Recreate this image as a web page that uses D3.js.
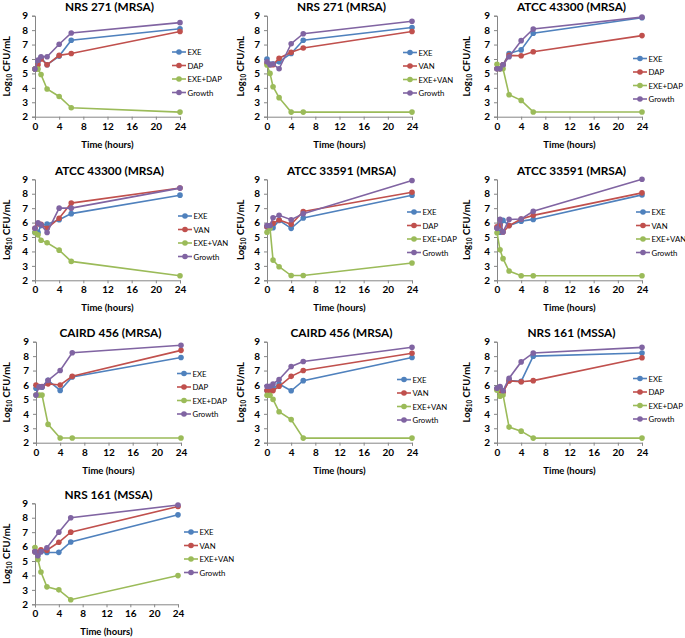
<!DOCTYPE html>
<html><head><meta charset="utf-8">
<script src="https://cdn.jsdelivr.net/npm/d3@7"></script>
<style>body{margin:0;background:#fff}svg{display:block}text{font-family:Lato,"Open Sans",sans-serif}</style>
</head><body>
<svg id="c" width="685" height="638"></svg>
<script>
const times = [0, 0.5, 1, 2, 4, 6, 24];
const xTicks = [0, 4, 8, 12, 16, 20, 24];
const yTicks = [2, 3, 4, 5, 6, 7, 8, 9];
const titles = ["NRS 271 (MRSA)", "NRS 271 (MRSA)", "ATCC 43300 (MRSA)", "ATCC 43300 (MRSA)", "ATCC 33591 (MRSA)", "ATCC 33591 (MRSA)", "CAIRD 456 (MRSA)", "CAIRD 456 (MRSA)", "NRS 161 (MSSA)", "NRS 161 (MSSA)"];
const namesDAP = ["EXE", "DAP", "EXE+DAP", "Growth"];
const namesVAN = ["EXE", "VAN", "EXE+VAN", "Growth"];
const colors = ["#4F81BD", "#C0504D", "#9BBB59", "#8064A2"];

// series order: EXE, antibiotic, combination, Growth
const nrs271Dap = [
  [5.3, 5.8, 6.1, 5.6, 6.2, 7.3, 8.1],
  [5.3, 5.6, 6.0, 5.6, 6.25, 6.38, 7.9],
  [5.3, 5.3, 4.92, 3.92, 3.4, 2.62, 2.32],
  [5.3, 5.92, 6.15, 6.15, 7.02, 7.8, 8.52]];
const nrs271Van = [
  [6.0, 5.65, 5.65, 5.8, 6.38, 7.3, 8.18],
  [5.7, 5.6, 5.6, 6.05, 6.46, 6.76, 7.9],
  [5.58, 5.0, 4.08, 3.32, 2.32, 2.32, 2.32],
  [5.8, 5.6, 5.65, 5.32, 7.06, 7.75, 8.62]];
const atcc43300Dap = [
  [5.32, 5.32, 5.6, 6.38, 6.63, 7.78, 8.86],
  [5.32, 5.32, 5.6, 6.25, 6.22, 6.5, 7.62],
  [5.64, 5.32, 5.32, 3.52, 3.13, 2.33, 2.33],
  [5.32, 5.32, 5.6, 6.15, 7.27, 8.08, 8.9]];
const atcc43300Van = [
  [5.32, 5.32, 5.8, 5.89, 6.2, 6.62, 7.9],
  [5.6, 5.92, 5.88, 5.6, 6.3, 7.35, 8.4],
  [5.31, 5.15, 4.78, 4.6, 4.09, 3.31, 2.32],
  [5.61, 5.98, 5.85, 5.31, 7.0, 7.0, 8.39]];
const atcc33591Dap = [
  [5.7, 5.72, 5.65, 6.15, 5.6, 6.32, 7.9],
  [5.72, 5.75, 5.95, 6.18, 5.88, 6.77, 8.1],
  [5.33, 5.6, 3.4, 2.94, 2.33, 2.33, 3.2],
  [5.79, 5.8, 6.33, 6.5, 6.2, 6.62, 8.92]];
const atcc33591Van = [
  [5.62, 5.33, 6.15, 5.8, 6.1, 6.22, 7.92],
  [5.7, 5.83, 5.35, 5.79, 6.25, 6.5, 8.06],
  [5.3, 4.11, 3.5, 2.64, 2.32, 2.32, 2.32],
  [5.6, 6.22, 5.35, 6.22, 6.25, 6.78, 9.0]];
const caird456Dap = [
  [5.77, 5.88, 5.85, 6.32, 5.62, 6.56, 7.9],
  [6.0, 5.9, 5.9, 6.08, 6.0, 6.6, 8.4],
  [5.3, 5.3, 5.3, 3.27, 2.33, 2.33, 2.33],
  [5.3, 5.88, 5.88, 6.32, 7.0, 8.23, 8.75]];
const caird456Van = [
  [5.62, 5.75, 5.75, 6.07, 5.6, 6.3, 7.9],
  [5.61, 5.61, 5.61, 5.91, 6.6, 7.0, 8.2],
  [5.29, 5.29, 5.0, 4.15, 3.6, 2.32, 2.32],
  [5.91, 5.91, 6.07, 6.38, 7.28, 7.63, 8.61]];
const nrs161Dap = [
  [5.75, 5.8, 5.55, 6.3, 6.25, 8.0, 8.22],
  [5.7, 5.6, 5.5, 6.28, 6.22, 6.3, 7.89],
  [5.64, 5.22, 5.31, 3.08, 2.8, 2.32, 2.32],
  [5.77, 5.89, 5.6, 6.47, 7.6, 8.22, 8.61]];
const nrs161Van = [
  [5.65, 5.5, 5.65, 5.59, 5.6, 6.32, 8.2],
  [5.65, 5.6, 5.78, 5.75, 6.3, 7.0, 8.78],
  [5.94, 5.1, 4.24, 3.21, 3.0, 2.32, 3.99],
  [5.65, 5.36, 5.65, 5.92, 7.0, 8.0, 8.88]];

const panelData = [nrs271Dap, nrs271Van, atcc43300Dap, atcc43300Van, atcc33591Dap, atcc33591Van, caird456Dap, caird456Van, nrs161Dap, nrs161Van];
const panelNames = [namesDAP, namesVAN, namesDAP, namesVAN, namesDAP, namesVAN, namesDAP, namesVAN, namesDAP, namesVAN];

// layout
const colX0 = [35, 267, 497];
const rowTop = [15.7, 179.3, 341.7, 503.3];
const plotH = 101;
const legendPos = [[179, 52], [410, 52.5], [640, 58.5], [185, 216], [414, 212], [643, 212], [184, 373.5], [404, 379.5], [640, 378.5], [191, 532]];
const yLabX = [6, 240, 466];

const svg = d3.select("#c");
const axisColor = "#868686";

panelData.forEach((series, i) => {
  const col = i % 3, row = Math.floor(i / 3);
  const x0 = colX0[col] + (row === 2 && col === 0 ? 1 : 0);
  const w = row === 3 ? 143 : 145;
  const top = rowTop[row];
  const x = d3.scaleLinear().domain([0, 24]).range([x0, x0 + w]);
  const y = d3.scaleLinear().domain([2, 9]).range([top + plotH, top]);
  const g = svg.append("g");

  // title
  g.append("text").attr("x", x0 + w / 2 + 2).attr("y", top - 4.5)
    .attr("text-anchor", "middle").attr("font-weight", "bold").attr("font-size", 11.8)
    .attr("fill", "#000").text(titles[i]);

  // axes
  const ya = g.append("g").attr("transform", `translate(${x0},0)`)
    .call(d3.axisLeft(y).tickValues(yTicks).tickFormat(d3.format("d")).tickSize(3).tickPadding(4));
  const xa = g.append("g").attr("transform", `translate(0,${top + plotH})`)
    .call(d3.axisBottom(x).tickValues(xTicks).tickFormat(d3.format("d")).tickSize(3).tickPadding(3));
  [ya, xa].forEach(a => {
    a.selectAll("path,line").attr("stroke", axisColor);
    a.selectAll("text").attr("font-size", 10).attr("font-weight", "bold")
      .attr("fill", "#000").attr("font-family", "Lato, sans-serif");
  });

  // axis titles
  g.append("text").attr("x", x0 + w / 2).attr("y", top + plotH + 31)
    .attr("text-anchor", "middle").attr("font-weight", "bold").attr("font-size", 9.5)
    .text("Time (hours)");
  const yl = g.append("text")
    .attr("transform", `translate(${yLabX[col] + 3.5},${top + plotH / 2}) rotate(-90)`)
    .attr("text-anchor", "middle").attr("font-weight", "bold").attr("font-size", 9.5);
  yl.append("tspan").text("Log");
  yl.append("tspan").attr("font-size", 6.5).attr("dy", 2.5).text("10");
  yl.append("tspan").attr("dy", -2.5).text(" CFU/mL");

  // series
  const line = d3.line().x((d, k) => x(times[k])).y(d => y(d));
  series.forEach((vals, s) => {
    g.append("path").datum(vals).attr("d", line)
      .attr("fill", "none").attr("stroke", colors[s]).attr("stroke-width", 1.6);
    g.selectAll(null).data(vals).enter().append("circle")
      .attr("cx", (d, k) => x(times[k])).attr("cy", d => y(d)).attr("r", 2.8)
      .attr("fill", colors[s]);
  });

  // legend
  const [lx, ly] = legendPos[i];
  panelNames[i].forEach((nm, s) => {
    const yy = ly + s * 13.5;
    g.append("line").attr("x1", lx - 7).attr("x2", lx + 7).attr("y1", yy).attr("y2", yy)
      .attr("stroke", colors[s]).attr("stroke-width", 1.6);
    g.append("circle").attr("cx", lx).attr("cy", yy).attr("r", 2.8).attr("fill", colors[s]);
    g.append("text").attr("x", lx + 8.5).attr("y", yy + 3).attr("font-size", 7.8)
      .attr("fill", "#000").text(nm);
  });
});
</script>
</body></html>
